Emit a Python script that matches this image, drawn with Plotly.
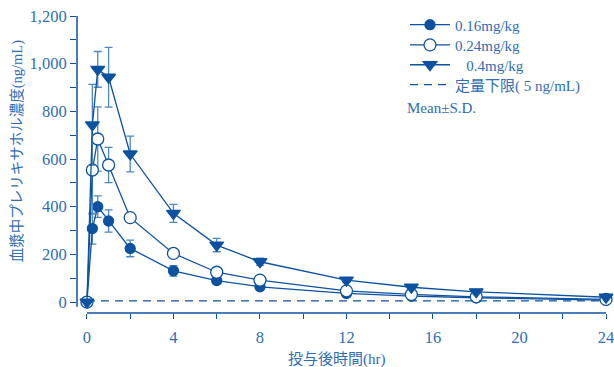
import plotly.graph_objects as go

time = [0, 0.25, 0.5, 1, 2, 4, 6, 8, 12, 15, 18, 24]
d016 = [0, 308, 400, 340, 225, 131, 90, 64, 36, 25, 18, 8]
sd016 = [0, 65, 45, 47, 35, 22, 15, 8, 6, 4, 3, 2]
d024 = [0, 554, 684, 575, 354, 204, 125, 92, 47, 32, 22, 11]
sd024 = [0, 185, 135, 74, 15, 10, 10, 8, 6, 5, 3, 2]
d04 = [0, 743, 976, 943, 621, 372, 239, 169, 92, 62, 43, 20]
sd04 = [0, 170, 75, 125, 75, 38, 28, 15, 10, 6, 4, 3]
lloq_x = [0, 24]
lloq_y = [5, 5]
names = ["0.16mg/kg", "0.24mg/kg", "\u00a0\u00a0\u00a00.4mg/kg", "定量下限(\u00a05\u00a0ng/mL)"]

C = "#0c52a0"
T = "#2f6db5"
EB = "#4d88c4"
FONT = "Liberation Serif, Noto Sans CJK JP, serif"

fig = go.Figure()

def add(y, sd, name, sym, fill, size, lg):
    fig.add_trace(go.Scatter(
        x=time, y=y, name=name, mode="lines+markers", legend=lg,
        line=dict(color=C, width=1.3),
        marker=dict(symbol=sym, size=size, color=fill, line=dict(color=C, width=1.3)),
        error_y=dict(type="data", array=sd, visible=True, color=EB, thickness=1.3, width=4),
        cliponaxis=False,
    ))

add(d016, sd016, names[0], "circle", C, 10, "legend")
add(d024, sd024, names[1], "circle", "white", 12, "legend2")
add(d04, sd04, names[2], "triangle-down", C, 12, "legend3")
fig.add_trace(go.Scatter(x=lloq_x, y=lloq_y, name=names[3], mode="lines", legend="legend4",
                         line=dict(color=C, width=1.2, dash="8px,6px"), cliponaxis=False))

def leg(yv):
    return dict(x=0.62, y=yv, xanchor="left", yanchor="middle", bgcolor="rgba(0,0,0,0)",
                font=dict(size=15, color=T), itemwidth=40)

fig.update_layout(
    width=614, height=367,
    margin=dict(l=77, r=8, t=16, b=54),
    paper_bgcolor="white", plot_bgcolor="white",
    font=dict(family=FONT, color=T, size=16),
    showlegend=True,
    legend=leg(0.970), legend2=leg(0.902), legend3=leg(0.835), legend4=leg(0.768),
    xaxis=dict(range=[-0.46, 24], showgrid=False, zeroline=False, showline=False,
               automargin=False, ticklabeloverflow="allow",
               tickmode="array", tickvals=list(range(0, 25, 2)),
               ticktext=[str(v) if v % 4 == 0 else "" for v in range(0, 25, 2)],
               ticks="outside", ticklen=5, tickcolor=C, tickwidth=1.3,
               ticklabelstandoff=4,
               tickfont=dict(size=16.5, color=T)),
    yaxis=dict(range=[-46, 1200], showgrid=False, zeroline=False, showline=False,
               automargin=False,
               tickmode="array", tickvals=list(range(0, 1201, 100)),
               ticktext=[f"{v:,}" if v % 200 == 0 else "" for v in range(0, 1201, 100)],
               ticks="outside", ticklen=6, tickcolor=C, tickwidth=1.3,
               tickfont=dict(size=16.5, color=T)),
)

# detached axis lines
fig.add_shape(type="line", xref="x", yref="paper", x0=0, x1=24, y0=0, y1=0,
              line=dict(color=C, width=1.5))
fig.add_shape(type="line", xref="paper", yref="y", x0=0, x1=0, y0=-20, y1=1200,
              line=dict(color=C, width=1.5))

fig.add_annotation(text="Mean±S.D.", xref="paper", yref="paper", x=0.62, y=0.69,
                   xanchor="left", yanchor="middle", showarrow=False,
                   font=dict(size=15, color=T))
fig.add_annotation(text="投与後時間(hr)", xref="paper", yref="paper", x=0.491, y=-0.155,
                   xanchor="center", yanchor="middle", showarrow=False,
                   font=dict(size=15, color=T))
fig.add_annotation(text="血漿中プレリキサホル濃度(ng/mL)", xref="paper", yref="paper",
                   x=-0.113, y=0.545, textangle=-90,
                   xanchor="center", yanchor="middle", showarrow=False,
                   font=dict(size=14.5, color=T))

# remove the default 8px page margin so the figure fills the window exactly
fig.write_html("out.html", config={"displayModeBar": False},
               post_script="document.body.style.margin='0';document.body.style.overflow='hidden';")
